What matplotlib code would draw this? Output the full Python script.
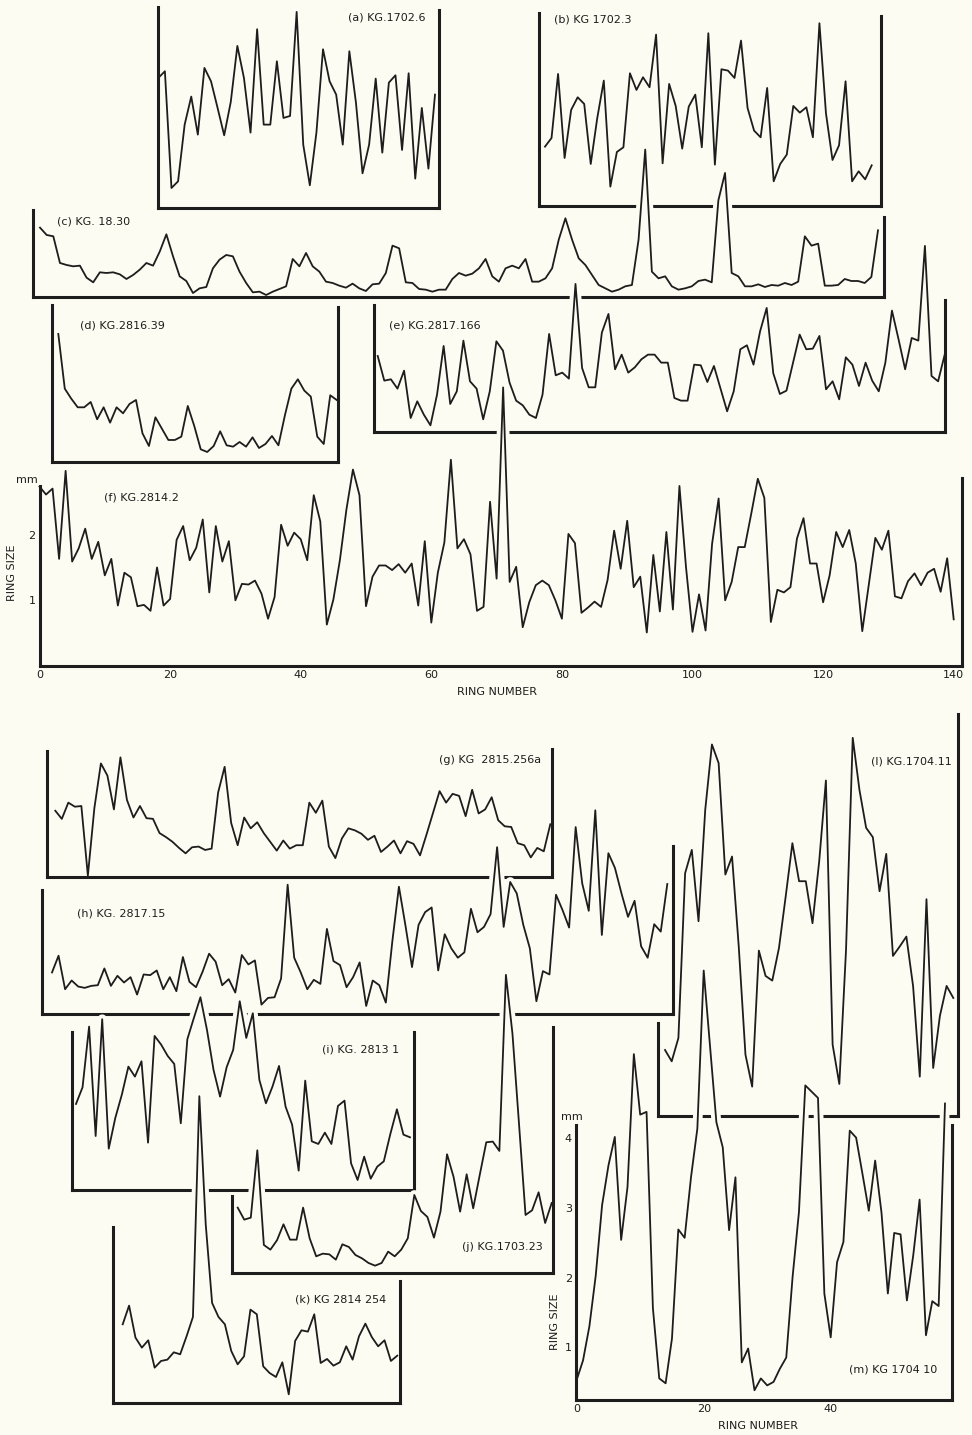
import matplotlib
matplotlib.use("Agg")
import matplotlib.pyplot as plt
import matplotlib.patheffects as pe

plt.rcParams["font.family"] = ["DejaVu Sans"]
plt.rcParams["font.size"] = 8

W, H = 972, 1435
BG = "#fcfcf2"
INK = "#1d1d1d"

# ring widths (mm), one value per ring
kg_1702_6 = [1.95, 2.05, 0.30, 0.40, 1.25, 1.67, 1.10, 2.10, 1.90, 1.50,
             1.09, 1.59, 2.43, 1.95, 1.13, 2.68, 1.25, 1.25, 2.20, 1.35,
             1.38, 2.94, 0.95, 0.34, 1.13, 2.38, 1.90, 1.70, 0.95, 2.35,
             1.58, 0.52, 0.95, 1.94, 0.83, 1.88, 1.99, 0.87, 2.02, 0.44,
             1.50, 0.59, 1.70]

kg_1702_3 = [0.89, 1.02, 1.98, 0.72, 1.44, 1.63, 1.53, 0.63, 1.32, 1.88,
             0.29, 0.81, 0.88, 1.99, 1.74, 1.93, 1.78, 2.57, 0.64, 1.83,
             1.50, 0.86, 1.49, 1.67, 0.88, 2.59, 0.62, 2.05, 2.03, 1.92,
             2.48, 1.47, 1.13, 1.03, 1.77, 0.37, 0.63, 0.77, 1.50, 1.40,
             1.48, 1.03, 2.74, 1.39, 0.69, 0.91, 1.87, 0.37, 0.52, 0.40,
             0.61]

kg_18_30 = [1.04, 0.93, 0.91, 0.51, 0.48, 0.46, 0.47, 0.29, 0.22, 0.37,
            0.36, 0.37, 0.34, 0.27, 0.33, 0.41, 0.51, 0.47, 0.68, 0.94,
            0.61, 0.31, 0.24, 0.06, 0.13, 0.15, 0.43, 0.56, 0.63, 0.61,
            0.38, 0.21, 0.07, 0.08, 0.03, 0.08, 0.12, 0.16, 0.57, 0.46,
            0.66, 0.46, 0.38, 0.23, 0.21, 0.17, 0.14, 0.20, 0.13, 0.09,
            0.19, 0.20, 0.36, 0.77, 0.73, 0.22, 0.21, 0.12, 0.11, 0.08,
            0.11, 0.11, 0.27, 0.36, 0.32, 0.35, 0.43, 0.57, 0.31, 0.23,
            0.43, 0.47, 0.43, 0.57, 0.23, 0.23, 0.28, 0.43, 0.86, 1.18,
            0.86, 0.58, 0.48, 0.33, 0.18, 0.13, 0.08, 0.11, 0.16, 0.18,
            0.86, 2.21, 0.38, 0.28, 0.31, 0.16, 0.11, 0.13, 0.16, 0.24,
            0.26, 0.22, 1.45, 1.86, 0.36, 0.31, 0.16, 0.16, 0.19, 0.15,
            0.18, 0.17, 0.21, 0.18, 0.23, 0.91, 0.77, 0.80, 0.17, 0.17,
            0.18, 0.27, 0.24, 0.24, 0.21, 0.30, 1.00]

kg_2816_39 = [1.92, 1.10, 0.95, 0.82, 0.82, 0.90, 0.64, 0.82, 0.59, 0.82,
              0.73, 0.87, 0.93, 0.43, 0.24, 0.67, 0.50, 0.33, 0.33, 0.38,
              0.84, 0.54, 0.19, 0.15, 0.24, 0.46, 0.25, 0.23, 0.30, 0.23,
              0.37, 0.21, 0.27, 0.39, 0.25, 0.70, 1.10, 1.24, 1.07, 0.98,
              0.38, 0.27, 1.00, 0.93]

kg_2817_166 = [1.14, 0.77, 0.79, 0.65, 0.92, 0.21, 0.46, 0.26, 0.10, 0.56,
               1.29, 0.42, 0.61, 1.37, 0.76, 0.65, 0.19, 0.61, 1.36, 1.22,
               0.74, 0.47, 0.40, 0.26, 0.21, 0.56, 1.47, 0.85, 0.89, 0.80,
               2.22, 0.96, 0.67, 0.67, 1.49, 1.77, 0.94, 1.16, 0.89, 0.97,
               1.09, 1.16, 1.16, 1.04, 1.04, 0.51, 0.47, 0.47, 1.01, 1.00,
               0.75, 0.99, 0.65, 0.31, 0.61, 1.24, 1.30, 1.01, 1.51, 1.86,
               0.88, 0.57, 0.62, 1.04, 1.46, 1.24, 1.25, 1.44, 0.64, 0.76,
               0.49, 1.12, 1.01, 0.69, 1.04, 0.77, 0.61, 1.04, 1.82, 1.39,
               0.94, 1.41, 1.37, 2.79, 0.84, 0.76, 1.16]

kg_2814_2 = [2.73, 2.61, 2.70, 1.63, 2.97, 1.59, 1.79, 2.09, 1.63, 1.89,
             1.38, 1.63, 0.92, 1.42, 1.35, 0.91, 0.93, 0.84, 1.50, 0.92,
             1.02, 1.92, 2.13, 1.61, 1.80, 2.23, 1.12, 2.13, 1.59, 1.90,
             1.00, 1.25, 1.24, 1.30, 1.10, 0.72, 1.05, 2.15, 1.83, 2.03,
             1.93, 1.61, 2.60, 2.20, 0.63, 1.01, 1.61, 2.38, 2.99, 2.60,
             0.91, 1.36, 1.53, 1.53, 1.46, 1.55, 1.42, 1.56, 0.92, 1.90,
             0.66, 1.42, 1.88, 3.14, 1.79, 1.93, 1.70, 0.84, 0.90, 2.50,
             1.33, 4.24, 1.28, 1.51, 0.59, 0.97, 1.23, 1.30, 1.23, 1.00,
             0.72, 2.01, 1.87, 0.81, 0.89, 0.98, 0.90, 1.31, 2.06, 1.48,
             2.21, 1.20, 1.36, 0.51, 1.69, 0.83, 2.04, 0.86, 2.74, 1.51,
             0.52, 1.09, 0.54, 1.86, 2.55, 1.00, 1.28, 1.81, 1.81, 2.32,
             2.85, 2.56, 0.67, 1.16, 1.12, 1.20, 1.94, 2.25, 1.56, 1.56,
             0.97, 1.38, 2.04, 1.81, 2.07, 1.56, 0.53, 1.24, 1.95, 1.77,
             2.06, 1.06, 1.03, 1.29, 1.41, 1.23, 1.42, 1.48, 1.13, 1.64,
             0.71]

kg_2815_256a = [0.98, 0.86, 1.10, 1.04, 1.05, 0.02, 1.02, 1.68, 1.50, 1.00,
                1.77, 1.14, 0.88, 1.05, 0.87, 0.86, 0.65, 0.59, 0.52, 0.43,
                0.35, 0.44, 0.45, 0.40, 0.42, 1.25, 1.63, 0.80, 0.47, 0.88,
                0.72, 0.81, 0.65, 0.52, 0.39, 0.54, 0.42, 0.47, 0.47, 1.10,
                0.95, 1.13, 0.45, 0.28, 0.57, 0.72, 0.69, 0.64, 0.55, 0.61,
                0.37, 0.45, 0.54, 0.35, 0.53, 0.49, 0.32, 0.63, 0.95, 1.27,
                1.10, 1.23, 1.20, 0.90, 1.29, 0.94, 1.00, 1.18, 0.84, 0.75,
                0.74, 0.50, 0.47, 0.29, 0.43, 0.38, 0.78]

kg_2817_15 = [0.62, 0.87, 0.37, 0.50, 0.41, 0.39, 0.42, 0.43, 0.68, 0.42,
              0.57, 0.47, 0.55, 0.29, 0.59, 0.58, 0.65, 0.37, 0.55, 0.34,
              0.85, 0.48, 0.40, 0.63, 0.90, 0.78, 0.43, 0.52, 0.32, 0.88,
              0.74, 0.80, 0.14, 0.24, 0.25, 0.53, 1.93, 0.84, 0.62, 0.37,
              0.51, 0.45, 1.27, 0.79, 0.73, 0.40, 0.55, 0.77, 0.12, 0.50,
              0.43, 0.17, 1.09, 1.90, 1.32, 0.70, 1.33, 1.52, 1.59, 0.65,
              1.19, 0.98, 0.84, 0.92, 1.57, 1.22, 1.30, 1.49, 2.49, 1.30,
              1.97, 1.80, 1.33, 0.98, 0.19, 0.64, 0.59, 1.78, 1.55, 1.29,
              2.79, 1.95, 1.54, 3.04, 1.18, 2.40, 2.18, 1.80, 1.45, 1.69,
              1.01, 0.84, 1.34, 1.23, 1.94]

kg_2813_1 = [1.29, 1.54, 2.45, 0.81, 2.56, 0.62, 1.08, 1.43, 1.85, 1.70,
             1.93, 0.71, 2.31, 2.18, 2.01, 1.89, 1.00, 2.26, 2.58, 2.89,
             2.40, 1.80, 1.40, 1.84, 2.10, 2.83, 2.28, 2.65, 1.65, 1.30,
             1.55, 1.86, 1.25, 0.98, 0.29, 1.64, 0.73, 0.69, 0.86, 0.69,
             1.26, 1.34, 0.40, 0.15, 0.50, 0.17, 0.35, 0.43, 0.84, 1.21,
             0.83, 0.79]

kg_1703_23 = [0.98, 0.80, 0.83, 1.84, 0.42, 0.35, 0.49, 0.73, 0.50, 0.50,
              0.98, 0.52, 0.25, 0.29, 0.28, 0.20, 0.43, 0.39, 0.27, 0.22,
              0.15, 0.11, 0.15, 0.32, 0.25, 0.35, 0.52, 1.17, 0.93, 0.84,
              0.53, 0.92, 1.78, 1.44, 0.92, 1.48, 0.97, 1.47, 1.96, 1.97,
              1.83, 4.47, 3.59, 2.24, 0.87, 0.94, 1.21, 0.75, 1.05]

kg_2814_254 = [1.18, 1.46, 0.98, 0.83, 0.94, 0.53, 0.63, 0.65, 0.76, 0.73,
               1.00, 1.29, 4.60, 2.68, 1.50, 1.29, 1.18, 0.78, 0.58, 0.70,
               1.40, 1.33, 0.55, 0.45, 0.39, 0.61, 0.13, 0.93, 1.09, 1.07,
               1.33, 0.60, 0.66, 0.56, 0.61, 0.85, 0.65, 1.00, 1.19, 0.99,
               0.85, 0.94, 0.63, 0.71]

kg_1704_11 = [0.99, 0.82, 1.17, 3.64, 3.99, 2.92, 4.59, 5.57, 5.29, 3.62,
              3.89, 2.54, 0.92, 0.44, 2.48, 2.10, 2.03, 2.52, 3.29, 4.09,
              3.52, 3.52, 2.89, 3.82, 5.03, 1.07, 0.48, 2.49, 5.67, 4.89,
              4.32, 4.18, 3.37, 3.93, 2.40, 2.54, 2.69, 1.95, 0.59, 3.25,
              0.72, 1.50, 1.95, 1.77]

kg_1704_10 = [0.53, 0.81, 1.30, 2.03, 3.04, 3.61, 4.02, 2.54, 3.30, 5.21,
              4.34, 4.38, 1.56, 0.55, 0.48, 1.12, 2.69, 2.57, 3.44, 4.14,
              6.41, 5.32, 4.23, 3.87, 2.68, 3.44, 0.78, 0.98, 0.38, 0.55,
              0.45, 0.50, 0.69, 0.85, 2.01, 2.94, 4.76, 4.67, 4.58, 1.77,
              1.14, 2.22, 2.51, 4.11, 4.01, 3.49, 2.96, 3.68, 2.93, 1.77,
              2.64, 2.62, 1.67, 2.32, 3.12, 1.17, 1.66, 1.59, 4.50]

f_xticks = [0, 20, 40, 60, 80, 100, 120, 140]
f_yticks = [1, 2]
m_xticks = [0, 20, 40]
m_yticks = [1, 2, 3, 4]

fig = plt.figure(figsize=(W / 100, H / 100), dpi=100, facecolor=BG)


def px(x, y):
    return x / W, 1 - y / H


def panel(data, left, right, bottom, ltop, rtop, first, last, ppu=66.7, y0=0.0):
    # one U-shaped frame with its series; the pale halo masks older frames
    n = len(data)
    step = (last - first) / (n - 1)
    height = min(bottom, 440)
    ax = fig.add_axes([left / W, 1 - bottom / H, (right - left) / W, height / H])
    ax.patch.set_visible(False)
    ax.set_xlim((left - first) / step, (right - first) / step)
    ax.set_ylim(y0, y0 + height / ppu)
    ax.plot(range(n), data, color=INK, lw=1.3, clip_on=False,
            solid_joinstyle="round",
            path_effects=[pe.Stroke(linewidth=7, foreground=BG), pe.Normal()])
    ax.spines["top"].set_visible(False)
    for side in ("left", "right", "bottom"):
        ax.spines[side].set_linewidth(2.2)
        ax.spines[side].set_color(INK)
        ax.spines[side].set_capstyle("projecting")
    ax.spines["left"].set_bounds(y0, y0 + (bottom - ltop) / ppu)
    ax.spines["right"].set_bounds(y0, y0 + (bottom - rtop) / ppu)
    ax.set_xticks([])
    ax.set_yticks([])
    return ax


def label(text, x, y, ha="left", **kw):
    fig.text(*px(x, y), text, ha=ha, va="center", color=INK, fontsize=8, **kw)


panel(kg_1702_6, 158, 439, 208, 7, 10, 158.3, 435)
label("(a) KG.1702.6", 425, 18, "right")

panel(kg_1702_3, 539, 881, 206, 13, 16, 545, 871.7)
label("(b) KG 1702.3", 554, 19)

panel(kg_18_30, 33, 884, 297, 210, 217, 40, 878)
label("(c) KG. 18.30", 57, 222)

panel(kg_2816_39, 52, 338, 462, 305, 307, 58.3, 336.7)
label("(d) KG.2816.39", 80, 325)

panel(kg_2817_166, 374, 945, 432, 305, 300, 377.7, 944.7)
label("(e) KG.2817.166", 389, 325)

ax_f = panel(kg_2814_2, 39.5, 962, 666, 486, 478, 39.5, 953.7, ppu=65.7)
ax_f.set_xticks(f_xticks)
ax_f.set_yticks(f_yticks)
ax_f.tick_params(length=0, labelsize=8, pad=3, colors=INK)
label("(f) KG.2814.2", 104, 497)
label("mm", 27, 480, "center")
label("RING SIZE", 12, 573, "center", rotation=90)
label("RING NUMBER", 497, 692, "center")

panel(kg_2815_256a, 47, 552, 877, 751, 749, 55.3, 550.3, ppu=67.6)
label("(g) KG  2815.256a", 541, 760, "right")

panel(kg_1704_11, 658, 958, 1116, 1023, 714, 665, 953.3)
label("(l) KG.1704.11", 952, 761, "right")

panel(kg_2817_15, 42, 673, 1014, 890, 846, 52, 667.3, ppu=67.0)
label("(h) KG. 2817.15", 77, 914)

panel(kg_2813_1, 72, 414, 1190, 1032, 1032, 76, 410)
label("(i) KG. 2813 1", 399, 1050, "right")

panel(kg_1703_23, 232, 553, 1273, 1196, 1027, 237.7, 551.7)
label("(j) KG.1703.23", 543, 1247, "right")

panel(kg_2814_254, 113, 400, 1403, 1227, 1281, 122.7, 397.3)
label("(k) KG 2814 254", 386, 1299, "right")

ax_m = panel(kg_1704_10, 576, 952, 1400, 1125, 1125, 576.7, 945, ppu=69.6, y0=0.24)
ax_m.set_xticks(m_xticks)
ax_m.set_yticks(m_yticks)
ax_m.tick_params(length=0, labelsize=8, pad=3, colors=INK)
label("(m) KG 1704 10", 937, 1370, "right")
label("mm", 572, 1117, "center")
label("RING SIZE", 555, 1322, "center", rotation=90)
label("RING NUMBER", 758, 1426, "center")

fig.savefig("out.png", dpi=100, facecolor=BG)
